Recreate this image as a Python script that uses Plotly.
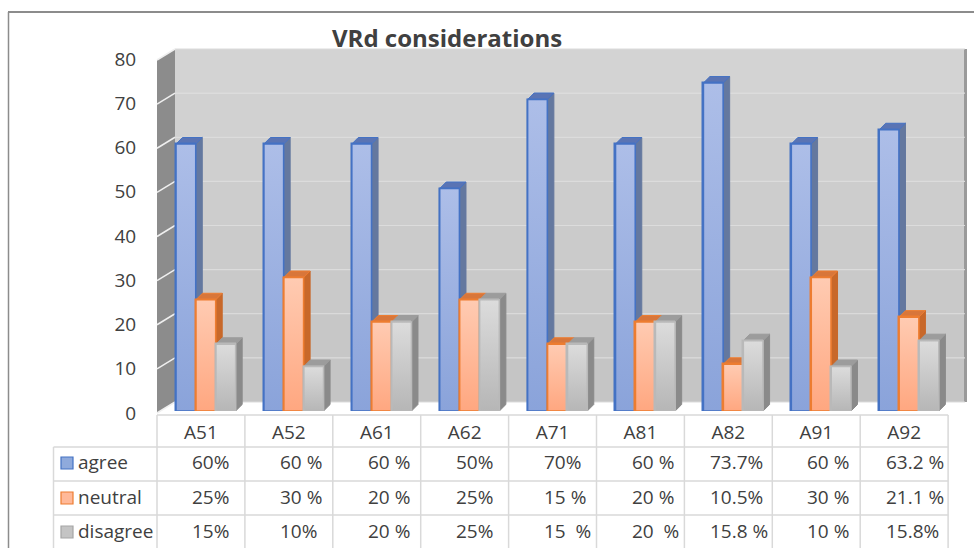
import plotly.graph_objects as go

categories = ["A51", "A52", "A61", "A62", "A71", "A81", "A82", "A91", "A92"]
agree = [60, 60, 60, 50, 70, 60, 73.7, 60, 63.2]
neutral = [25, 30, 20, 25, 15, 20, 10.5, 30, 21.1]
disagree = [15, 10, 20, 25, 15, 20, 15.8, 10, 15.8]
agree_labels = ["60%", "60 %", "60 %", "50%", "70%", "60 %", "73.7%", "60 %", "63.2 %"]
neutral_labels = ["25%", "30 %", "20 %", "25%", "15 %", "20 %", "10.5%", "30 %", "21.1 %"]
disagree_labels = ["15%", "10%", "20 %", "25%", "15  %", "20  %", "15.8 %", "10 %", "15.8%"]
y_ticks = [0, 10, 20, 30, 40, 50, 60, 70, 80]

W, H = 974, 548
TEXT = "#404040"
FONT = "Open Sans"
GRID = "#d9d9d9"
FS = 19

series = [
    dict(name="agree", v=agree, labels=agree_labels, off=-0.284, line="#4472c4", top="#adbee8", bot="#8aa3da",
         side="#64789f", cap="#5a74b4", key="#8faadc", kl="#4472c4"),
    dict(name="neutral", v=neutral, labels=neutral_labels, off=-0.057, line="#ed7d31", top="#ffcbb2", bot="#ffa780",
         side="#c8682a", cap="#d8763a", key="#ffb999", kl="#ed7d31"),
    dict(name="disagree", v=disagree, labels=disagree_labels, off=0.170, line="#b9b9b9", top="#dcdcdc", bot="#b6b6b6",
         side="#8a8a8a", cap="#9c9c9c", key="#c4c4c4", kl="#a5a5a5"),
]

BAR_W = 0.225
DX = 0.074
DY = 1.46


def px(p):
    return p / W


def py(p):
    return 1 - p / H


fig = go.Figure()
# carries the value axis labels
fig.add_trace(go.Scatter(x=[0] * len(y_ticks), y=y_ticks, mode="markers", marker=dict(opacity=0, size=1),
                         hoverinfo="skip", showlegend=False))
z = 1
for s in series:
    xs_side, ys_side, xs_cap, ys_cap = [], [], [], []
    for i, v in enumerate(s["v"]):
        r = i + s["off"] + BAR_W
        l = i + s["off"]
        xs_side += [r, r + DX, r + DX, r, r, None]
        ys_side += [0, DY, v + DY, v, 0, None]
        xs_cap += [l, l + DX, r + DX, r, l, None]
        ys_cap += [v, v + DY, v + DY, v, v, None]
    fig.add_trace(go.Scatter(x=xs_side, y=ys_side, yaxis="y2", mode="lines", fill="toself", fillcolor=s["side"],
                             line=dict(color=s["side"], width=1), hoverinfo="skip", showlegend=False, zorder=z))
    fig.add_trace(go.Scatter(x=xs_cap, y=ys_cap, yaxis="y2", mode="lines", fill="toself", fillcolor=s["cap"],
                             line=dict(color=s["line"] if s["name"] != "disagree" else s["cap"], width=1),
                             hoverinfo="skip", showlegend=False, zorder=z))
    z += 1
    fig.add_trace(go.Bar(x=list(range(len(categories))), y=s["v"], yaxis="y2", name=s["name"], width=BAR_W, offset=s["off"],
                         marker=dict(color=s["key"], line=dict(color=s["line"], width=1.5)), showlegend=False, zorder=z))
    z += 1
    for i, v in enumerate(s["v"]):
        l = i + s["off"]
        r = l + BAR_W
        fig.add_trace(go.Scatter(x=[l, l, r, r, l], y=[0, v, v, 0, 0], yaxis="y2", mode="lines", fill="toself",
                                 fillgradient=dict(type="vertical", start=0, stop=v,
                                                   colorscale=[[0, s["bot"]], [1, s["top"]]]),
                                 line=dict(color=s["line"], width=1.6), hoverinfo="skip", showlegend=False, zorder=z))
    z += 1

shapes = []


def rect(x0, y0, x1, y1, color, line=None, width=0, layer="below"):
    shapes.append(dict(type="rect", xref="paper", yref="paper", x0=px(x0), x1=px(x1), y0=py(y0), y1=py(y1),
                       fillcolor=color, line=dict(color=line or color, width=width), layer=layer))


def seg(x0, y0, x1, y1, color, width=1.5, layer="below"):
    shapes.append(dict(type="line", xref="paper", yref="paper", x0=px(x0), x1=px(x1), y0=py(y0), y1=py(y1),
                       line=dict(color=color, width=width), layer=layer))


# outer frame
seg(8, 12, 974, 12, "#8c8c8c", 2)
seg(8.5, 12, 8.5, 548, "#8c8c8c", 1.5)

# back wall bands
WX0, WX1, WY0, WY1 = 175, 965, 402, 49
FY0, FY1 = 413, 60
for k in range(8):
    yb = WY0 + (WY1 - WY0) * k / 8
    yt = WY0 + (WY1 - WY0) * (k + 1) / 8
    g = 197 + k * 2
    rect(WX0, yb, WX1, yt, f"rgb({g},{g},{g})")
rect(WX1 - 1, WY1, WX1 + 2, WY0, "#9a9a9a")
# side wall
shapes.append(dict(type="path", xref="paper", yref="paper", layer="below", fillcolor="#8c8c8c", line=dict(width=0),
                   path=f"M {px(157)} {py(FY0)} L {px(WX0)} {py(WY0)} L {px(WX0)} {py(WY1)} L {px(157)} {py(FY1)} Z"))
for t in y_ticks:
    f = t / 80
    yb = WY0 + (WY1 - WY0) * f
    yf = FY0 + (FY1 - FY0) * f
    seg(WX0, yb, WX1, yb, "#dcdcdc", 1.2)
    seg(157, yf, WX0, yb, "#efefef", 1.5)

# data table
cols = [157 + 87.9 * i for i in range(len(categories) + 1)]
for x in cols:
    seg(x, 415, x, 548, GRID)
seg(53.5, 447, 53.5, 548, GRID)
seg(157, 415, cols[-1], 415, GRID)
for yy in (447, 481, 515):
    seg(53.5, yy, cols[-1], yy, GRID)

annotations = [dict(text="<b>VRd considerations</b>", xref="paper", yref="paper", x=px(447), y=py(37), xanchor="center",
                    yanchor="middle", showarrow=False, font=dict(family=FONT, size=24, color=TEXT))]
rows = [462, 497, 531]
keys = [(457, 469), (492, 504), (526, 538)]
for s, ry, (k0, k1) in zip(series, rows, keys):
    rect(61, k0, 73, k1, s["key"], s["kl"], 1.2, layer="above")
    annotations.append(dict(text=s["name"], xref="paper", yref="paper", x=px(76), y=py(ry), xanchor="left",
                            yanchor="middle", showarrow=False, font=dict(family=FONT, size=FS, color=TEXT)))
    for i, lab in enumerate(s["labels"]):
        off = 24 if "." in lab else 33
        annotations.append(dict(text=lab, xref="paper", yref="paper", x=px(cols[i] + off), y=py(ry), xanchor="left",
                                yanchor="middle", showarrow=False, font=dict(family=FONT, size=FS, color=TEXT)))

fig.update_layout(
    width=W, height=H, margin=dict(l=0, r=0, t=0, b=0, autoexpand=False), paper_bgcolor="white", plot_bgcolor="rgba(0,0,0,0)",
    barmode="overlay", bargap=0, showlegend=False, shapes=shapes, annotations=annotations,
    font=dict(family=FONT, color=TEXT, size=FS),
    xaxis=dict(domain=[px(157), px(cols[-1])], range=[-0.5, 8.5], tickmode="array", tickvals=list(range(9)),
               ticktext=categories, showgrid=False, zeroline=False, showline=False, ticks="outside", ticklen=4,
               tickcolor="rgba(0,0,0,0)", anchor="y2", automargin=False, tickfont=dict(family=FONT, size=FS, color=TEXT)),
    yaxis=dict(domain=[py(413), py(59)], range=[0, 80], tickmode="array", tickvals=y_ticks, showgrid=False, zeroline=False,
               showline=False, ticks="outside", ticklen=16, tickcolor="rgba(0,0,0,0)", anchor="x", automargin=False,
               tickfont=dict(family=FONT, size=FS, color=TEXT)),
    yaxis2=dict(domain=[py(411), py(55)], range=[0, 80], showgrid=False, zeroline=False, showticklabels=False, ticks="",
                showline=False, anchor="x", side="right", automargin=False),
)
fig.write_html("out.html", config={"displayModeBar": False},
               post_script="document.body.style.margin='0';document.documentElement.style.overflow='hidden';")
